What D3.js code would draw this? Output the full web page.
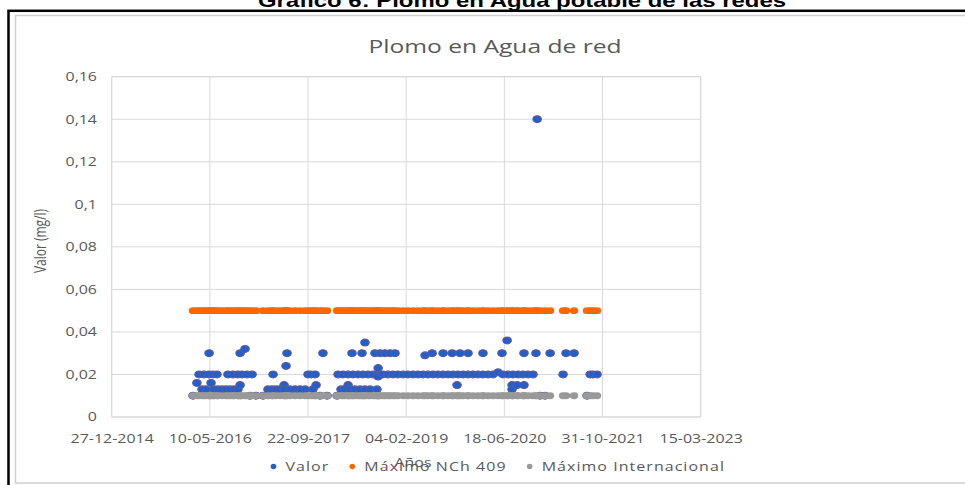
<!DOCTYPE html>
<html>
<head>
<meta charset="utf-8">
<script src="https://cdn.jsdelivr.net/npm/d3@7"></script>
<style>
  body { margin: 0; background: #fff; }
  svg { display: block; }
</style>
</head>
<body>
<div id="chart"></div>
<script>
// ---------------------------------------------------------------------------
// DATA
// ---------------------------------------------------------------------------
// one entry per sample: date and lead value (mg/l)
const fechas = [
  "2016-02-14", "2016-03-05", "2016-03-16", "2016-03-31", "2016-04-10", "2016-04-20",
  "2016-05-06", "2016-05-06", "2016-05-16", "2016-05-26", "2016-05-31", "2016-06-15",
  "2016-06-20", "2016-07-11", "2016-07-31", "2016-08-10", "2016-08-21", "2016-09-05",
  "2016-09-10", "2016-09-30", "2016-09-30", "2016-10-11", "2016-10-11", "2016-10-21",
  "2016-11-05", "2016-11-15", "2016-11-30", "2016-12-11", "2016-12-31",
  "2017-02-05", "2017-03-02", "2017-03-23", "2017-03-28", "2017-04-12", "2017-05-02",
  "2017-05-23", "2017-05-23", "2017-06-02", "2017-06-07", "2017-06-22", "2017-07-18",
  "2017-08-12", "2017-09-07", "2017-09-22", "2017-10-07", "2017-10-17", "2017-10-28",
  "2017-11-02", "2017-11-22", "2017-12-07", "2017-12-28",
  "2018-02-17", "2018-02-22", "2018-03-09", "2018-03-19", "2018-03-29", "2018-04-14",
  "2018-04-14", "2018-04-24", "2018-05-04", "2018-05-09", "2018-05-19", "2018-06-04",
  "2018-06-14", "2018-06-24", "2018-06-29", "2018-07-09", "2018-07-09", "2018-07-25",
  "2018-08-04", "2018-08-19", "2018-08-29", "2018-09-08", "2018-09-14", "2018-09-14",
  "2018-09-14", "2018-09-24", "2018-10-09", "2018-10-19", "2018-11-03", "2018-11-14",
  "2018-11-29", "2018-12-09", "2018-12-24",
  "2019-01-20", "2019-02-13", "2019-03-11", "2019-04-05", "2019-05-01", "2019-05-11",
  "2019-05-26", "2019-06-16", "2019-06-21", "2019-07-16", "2019-08-11", "2019-08-11",
  "2019-09-05", "2019-09-26", "2019-10-01", "2019-10-21", "2019-10-26", "2019-11-05",
  "2019-11-21", "2019-12-16", "2019-12-16",
  "2020-01-10", "2020-02-05", "2020-03-01", "2020-03-01", "2020-03-27", "2020-04-21",
  "2020-05-17", "2020-06-06", "2020-06-11", "2020-07-02", "2020-07-07", "2020-07-27",
  "2020-07-27", "2020-08-01", "2020-08-22", "2020-08-27", "2020-09-21", "2020-09-26",
  "2020-09-26", "2020-10-17", "2020-11-11", "2020-11-26", "2020-12-02", "2020-12-17",
  "2021-01-11", "2021-02-06", "2021-04-13", "2021-04-28", "2021-06-08", "2021-08-13",
  "2021-08-29", "2021-09-13", "2021-10-03"
];
const valores = [
  0.01, 0.016, 0.02, 0.013, 0.02, 0.013,
  0.03, 0.02, 0.016, 0.02, 0.013, 0.02,
  0.013, 0.013, 0.013, 0.02, 0.013, 0.02,
  0.013, 0.02, 0.013, 0.03, 0.015, 0.02,
  0.032, 0.02, 0.01, 0.02, 0.01,
  0.01, 0.013, 0.013, 0.02, 0.013, 0.013,
  0.015, 0.013, 0.024, 0.03, 0.013, 0.013,
  0.013, 0.013, 0.02, 0.02, 0.013, 0.02,
  0.015, 0.01, 0.03, 0.01,
  0.01, 0.02, 0.013, 0.02, 0.013, 0.02,
  0.015, 0.013, 0.03, 0.02, 0.013, 0.02,
  0.013, 0.03, 0.02, 0.035, 0.013, 0.02,
  0.013, 0.02, 0.03, 0.013, 0.02, 0.023,
  0.019, 0.03, 0.02, 0.03, 0.02, 0.03,
  0.02, 0.03, 0.02,
  0.02, 0.02, 0.02, 0.02, 0.02, 0.029,
  0.02, 0.03, 0.02, 0.02, 0.03, 0.02,
  0.02, 0.03, 0.02, 0.015, 0.02, 0.03,
  0.02, 0.03, 0.02,
  0.02, 0.02, 0.03, 0.02, 0.02, 0.02,
  0.021, 0.03, 0.02, 0.036, 0.02, 0.015,
  0.013, 0.02, 0.015, 0.02, 0.02, 0.03,
  0.015, 0.02, 0.02, 0.03, 0.14, 0.01,
  0.01, 0.03, 0.02, 0.03, 0.03, 0.01,
  0.02, 0.02, 0.02
];

// limits, plotted at every sampling date
const limiteNCh409 = 0.05;
const limiteInternacional = 0.01;

const xTickLabels = ["27-12-2014", "10-05-2016", "22-09-2017", "04-02-2019", "18-06-2020", "31-10-2021", "15-03-2023"];
const yTicks = [0, 0.02, 0.04, 0.06, 0.08, 0.1, 0.12, 0.14, 0.16];
const seriesNames = ["Valor", "Máximo NCh 409", "Máximo Internacional"];

// ---------------------------------------------------------------------------
// LAYOUT
// ---------------------------------------------------------------------------
const W = 965, H = 485;
const SX = 1.33;   // the original picture is stretched sideways
const plot = { left: 111.7, right: 700.7, top: 76.7, bottom: 417 };
const textColor = '#595959';
const gridColor = '#d9d9d9';
const colors = { valor: '#1f5fce', valorStroke: '#5b5b98', nch: '#ff6600', inter: '#999999' };

const svg = d3.select('#chart')
  .append('svg')
  .attr('width', W)
  .attr('height', H)
  .style('font-family', '"Open Sans", sans-serif');

// document title (clipped at the top)
svg.append('text')
  .attr('transform', `translate(522, 7) scale(${SX},1)`)
  .attr('text-anchor', 'middle')
  .style('font-family', '"Liberation Sans", Arial, sans-serif')
  .style('font-weight', 'bold')
  .style('font-size', '18px')
  .style('fill', '#000')
  .text('Gráfico 6: Plomo en Agua potable de las redes');

// frames
svg.append('rect')
  .attr('x', 8.5).attr('y', 10.8)
  .attr('width', 1000).attr('height', 500)
  .attr('fill', 'none')
  .attr('stroke', '#000')
  .attr('stroke-width', 2.5);

svg.append('rect')
  .attr('x', 15.5).attr('y', 15.5)
  .attr('width', 1000).attr('height', 467.5)
  .attr('fill', '#fff')
  .attr('stroke', '#d0d0d0')
  .attr('stroke-width', 1.5);

// ---------------------------------------------------------------------------
// SCALES
// ---------------------------------------------------------------------------
const parseTick = d3.utcParse('%d-%m-%Y');
const parseIso = d3.utcParse('%Y-%m-%d');
const xTickDates = xTickLabels.map(parseTick);

const x = d3.scaleUtc()
  .domain([xTickDates[0], xTickDates[xTickDates.length - 1]])
  .range([plot.left, plot.right]);

const y = d3.scaleLinear()
  .domain([0, 0.16])
  .range([plot.bottom, plot.top]);

const esLocale = d3.formatLocale({ decimal: ',', thousands: '.', grouping: [3], currency: ['$', ''] });
const yFormat = esLocale.format('~g');

// ---------------------------------------------------------------------------
// GRID + AXES
// ---------------------------------------------------------------------------
svg.append('g')
  .selectAll('line')
  .data(yTicks)
  .join('line')
  .attr('x1', plot.left).attr('x2', plot.right)
  .attr('y1', d => y(d)).attr('y2', d => y(d))
  .attr('stroke', gridColor)
  .attr('stroke-width', 1);

svg.append('g')
  .selectAll('line')
  .data(xTickDates)
  .join('line')
  .attr('x1', d => x(d)).attr('x2', d => x(d))
  .attr('y1', plot.top).attr('y2', plot.bottom)
  .attr('stroke', gridColor)
  .attr('stroke-width', 1);

svg.append('rect')
  .attr('x', plot.left).attr('y', plot.top)
  .attr('width', plot.right - plot.left)
  .attr('height', plot.bottom - plot.top)
  .attr('fill', 'none')
  .attr('stroke', gridColor)
  .attr('stroke-width', 1);

const yAxisG = svg.append('g')
  .attr('transform', `translate(${plot.left},0)`)
  .call(d3.axisLeft(y).tickValues(yTicks).tickSize(0).tickPadding(0).tickFormat(yFormat));
yAxisG.select('.domain').remove();
yAxisG.selectAll('text')
  .attr('x', 0)
  .attr('transform', `translate(${97 - plot.left},0) scale(${SX},1)`)
  .style('font-family', '"Open Sans", sans-serif')
  .style('font-size', '12px')
  .style('fill', textColor);

const xAxisG = svg.append('g')
  .attr('transform', `translate(0,${plot.bottom})`)
  .call(d3.axisBottom(x).tickValues(xTickDates).tickSize(0).tickFormat(d3.utcFormat('%d-%m-%Y')));
xAxisG.select('.domain').remove();
xAxisG.selectAll('text')
  .attr('y', 22)
  .attr('dy', '0.32em')
  .attr('transform', `scale(${SX},1)`)
  .style('font-family', '"Open Sans", sans-serif')
  .style('font-size', '12px')
  .style('fill', textColor);

// ---------------------------------------------------------------------------
// POINTS
// ---------------------------------------------------------------------------
const muestras = fechas.map((f, i) => ({ fecha: parseIso(f), valor: valores[i] }));

svg.append('g')
  .selectAll('ellipse')
  .data(muestras)
  .join('ellipse')
  .attr('cx', d => x(d.fecha))
  .attr('cy', d => y(d.valor))
  .attr('rx', 4.2).attr('ry', 3.4)
  .attr('fill', colors.valor)
  .attr('stroke', colors.valorStroke)
  .attr('stroke-width', 1.2);

svg.append('g')
  .selectAll('ellipse')
  .data(muestras)
  .join('ellipse')
  .attr('cx', d => x(d.fecha))
  .attr('cy', y(limiteNCh409))
  .attr('rx', 4.2).attr('ry', 3.4)
  .attr('fill', colors.nch);

svg.append('g')
  .selectAll('ellipse')
  .data(muestras)
  .join('ellipse')
  .attr('cx', d => x(d.fecha))
  .attr('cy', y(limiteInternacional))
  .attr('rx', 4.2).attr('ry', 3.4)
  .attr('fill', colors.inter);

// ---------------------------------------------------------------------------
// LABELS
// ---------------------------------------------------------------------------
svg.append('text')
  .attr('transform', `translate(495, 53) scale(${SX},1)`)
  .attr('text-anchor', 'middle')
  .style('font-size', '18.5px')
  .style('fill', textColor)
  .text('Plomo en Agua de red');

svg.append('text')
  .attr('transform', `translate(46, 241) scale(${SX},1) rotate(-90)`)
  .attr('text-anchor', 'middle')
  .style('font-size', '12px')
  .style('fill', textColor)
  .text('Valor (mg/l)');

svg.append('text')
  .attr('transform', `translate(413, 467) scale(${SX},1)`)
  .attr('text-anchor', 'middle')
  .style('font-size', '12px')
  .style('fill', textColor)
  .text('Años');

// ---------------------------------------------------------------------------
// LEGEND
// ---------------------------------------------------------------------------
const legendColors = [colors.valor, colors.nch, colors.inter];
const legend = svg.append('g').attr('class', 'legend');
let lx = 273.5;
seriesNames.forEach((name, i) => {
  legend.append('circle')
    .attr('cx', lx).attr('cy', 466.5)
    .attr('r', 2.8)
    .attr('fill', legendColors[i]);
  const t = legend.append('text')
    .attr('transform', `translate(${lx + 12}, 471) scale(${SX},1)`)
    .style('font-size', '12px')
    .style('letter-spacing', '0.8px')
    .style('fill', textColor)
    .text(name);
  lx += 12 + t.node().getComputedTextLength() * SX + 23;
});
</script>
</body>
</html>
